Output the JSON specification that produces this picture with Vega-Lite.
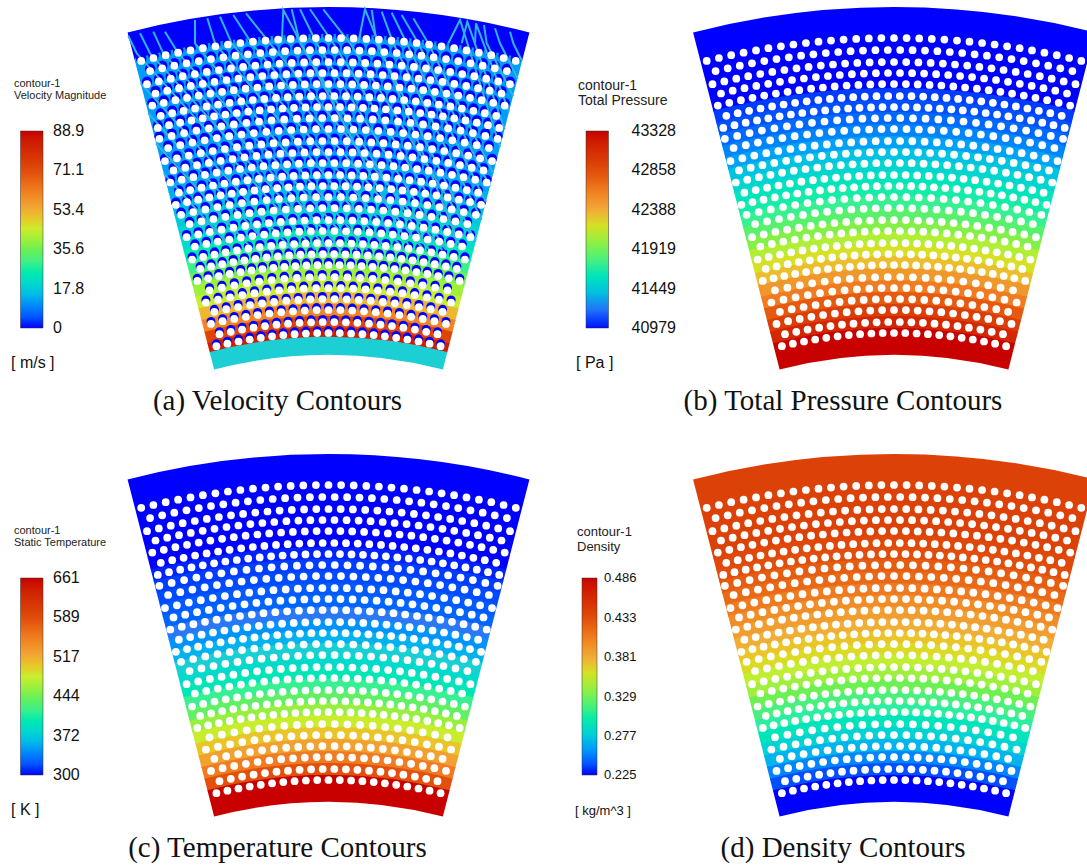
{"$schema":"https://vega.github.io/schema/vega-lite/v6.json","padding":0,"spacing":0,"bounds":"flush","align":"each","columns":2,"resolve":{"scale":{"color":"independent"},"legend":{"color":"independent"}},"config":{"view":{"stroke":null},"axis":{"disable":true}},
"datasets":{
"bandsA":[{"r1":808,"r0":780,"v":0},{"r1":781,"r0":726,"v":12},{"r1":727,"r0":714,"v":12},{"r1":715,"r0":702,"v":12},{"r1":703,"r0":690,"v":12},{"r1":691,"r0":678,"v":12},{"r1":679,"r0":666,"v":12},{"r1":667,"r0":654,"v":12},{"r1":655,"r0":642,"v":13},{"r1":643,"r0":630,"v":14},{"r1":631,"r0":618,"v":15},{"r1":619,"r0":606,"v":17},{"r1":607,"r0":594,"v":19},{"r1":595,"r0":582,"v":21},{"r1":583,"r0":570,"v":25},{"r1":571,"r0":558,"v":29.3},{"r1":559,"r0":546,"v":34.7},{"r1":547,"r0":534,"v":40},{"r1":535,"r0":522,"v":44.5},{"r1":523,"r0":510,"v":51.6},{"r1":511,"r0":498,"v":60.5},{"r1":499,"r0":486,"v":72.9},{"r1":487,"r0":477,"v":84.5},{"r1":478,"r0":460,"v":17.8}],
"bandsB":[{"r1":808,"r0":726,"v":40979},{"r1":727,"r0":714,"v":41049},{"r1":715,"r0":702,"v":41096},{"r1":703,"r0":690,"v":41167},{"r1":691,"r0":678,"v":41237},{"r1":679,"r0":666,"v":41308},{"r1":667,"r0":654,"v":41402},{"r1":655,"r0":642,"v":41496},{"r1":643,"r0":630,"v":41590},{"r1":631,"r0":618,"v":41660},{"r1":619,"r0":606,"v":41731},{"r1":607,"r0":594,"v":41848},{"r1":595,"r0":582,"v":41966},{"r1":583,"r0":570,"v":42083},{"r1":571,"r0":558,"v":42200},{"r1":559,"r0":546,"v":42318},{"r1":547,"r0":534,"v":42482},{"r1":535,"r0":522,"v":42623},{"r1":523,"r0":510,"v":42788},{"r1":511,"r0":498,"v":42952},{"r1":499,"r0":486,"v":43117},{"r1":487,"r0":460,"v":43328}],
"bandsC":[{"r1":808,"r0":726,"v":300},{"r1":727,"r0":714,"v":300},{"r1":715,"r0":702,"v":304},{"r1":703,"r0":690,"v":311},{"r1":691,"r0":678,"v":316},{"r1":679,"r0":666,"v":322},{"r1":667,"r0":654,"v":327},{"r1":655,"r0":642,"v":336},{"r1":643,"r0":630,"v":345},{"r1":631,"r0":618,"v":358},{"r1":619,"r0":606,"v":372},{"r1":607,"r0":594,"v":383},{"r1":595,"r0":582,"v":397},{"r1":583,"r0":570,"v":416},{"r1":571,"r0":558,"v":437},{"r1":559,"r0":546,"v":459},{"r1":547,"r0":534,"v":481},{"r1":535,"r0":522,"v":502},{"r1":523,"r0":510,"v":524},{"r1":511,"r0":498,"v":553},{"r1":499,"r0":486,"v":585},{"r1":487,"r0":460,"v":661}],
"bandsD":[{"r1":808,"r0":726,"v":0.442},{"r1":727,"r0":714,"v":0.436},{"r1":715,"r0":702,"v":0.432},{"r1":703,"r0":690,"v":0.425},{"r1":691,"r0":678,"v":0.418},{"r1":679,"r0":666,"v":0.408},{"r1":667,"r0":654,"v":0.398},{"r1":655,"r0":642,"v":0.389},{"r1":643,"r0":630,"v":0.38},{"r1":631,"r0":618,"v":0.371},{"r1":619,"r0":606,"v":0.363},{"r1":607,"r0":594,"v":0.353},{"r1":595,"r0":582,"v":0.342},{"r1":583,"r0":570,"v":0.329},{"r1":571,"r0":558,"v":0.316},{"r1":559,"r0":546,"v":0.303},{"r1":547,"r0":534,"v":0.293},{"r1":535,"r0":522,"v":0.28},{"r1":523,"r0":510,"v":0.267},{"r1":511,"r0":498,"v":0.254},{"r1":499,"r0":486,"v":0.238},{"r1":487,"r0":460,"v":0.225}],
"streaks":[{"s":1,"x":-200.2,"y":779},{"s":1,"x":-191.8,"y":761.7},{"s":1,"x":-13.2,"y":565},{"s":2,"x":-188.5,"y":781.7},{"s":2,"x":-178.5,"y":761.7},{"s":2,"x":0.2,"y":565},{"s":3,"x":-175.2,"y":783.3},{"s":3,"x":-165.2,"y":761.7},{"s":3,"x":13.5,"y":565},{"s":4,"x":-163.5,"y":783.3},{"s":4,"x":-150.2,"y":761.7},{"s":4,"x":28.5,"y":565},{"s":5,"x":-187.8,"y":731.7},{"s":5,"x":-36.2,"y":565},{"s":6,"x":-180.2,"y":701.7},{"s":6,"x":-55.8,"y":565},{"s":7,"x":-172.5,"y":671.7},{"s":7,"x":-75.5,"y":565},{"s":8,"x":-164.8,"y":641.7},{"s":8,"x":-95.2,"y":565},{"s":9,"x":-133.5,"y":795},{"s":9,"x":-133.5,"y":771.7},{"s":9,"x":38.8,"y":565},{"s":10,"x":-121.2,"y":796.7},{"s":10,"x":-113.5,"y":771.7},{"s":10,"x":58.8,"y":565},{"s":11,"x":-108.5,"y":798.3},{"s":11,"x":-96.8,"y":771.7},{"s":11,"x":75.5,"y":565},{"s":12,"x":-95.2,"y":800},{"s":12,"x":-76.8,"y":771.7},{"s":12,"x":95.5,"y":565},{"s":13,"x":-82.5,"y":801.7},{"s":13,"x":-58.5,"y":771.7},{"s":13,"x":113.8,"y":565},{"s":14,"x":-45.2,"y":805},{"s":14,"x":-46.8,"y":771.7},{"s":14,"x":82.5,"y":565},{"s":15,"x":-36.8,"y":805.7},{"s":15,"x":-28.5,"y":771.7},{"s":15,"x":100.8,"y":565},{"s":16,"x":-28.5,"y":805.7},{"s":16,"x":-11.8,"y":771.7},{"s":16,"x":117.5,"y":565},{"s":17,"x":-18.5,"y":805.7},{"s":17,"x":4.8,"y":771.7},{"s":17,"x":134.2,"y":565},{"s":18,"x":-5.2,"y":805.7},{"s":18,"x":21.5,"y":771.7},{"s":18,"x":141.5,"y":581.7},{"s":19,"x":36.5,"y":805.7},{"s":19,"x":29.8,"y":771.7},{"s":19,"x":133.2,"y":565},{"s":20,"x":43.2,"y":805},{"s":20,"x":48.2,"y":771.7},{"s":20,"x":147.2,"y":573.3},{"s":21,"x":53.2,"y":803.3},{"s":21,"x":64.8,"y":771.7},{"s":21,"x":153.2,"y":595.3},{"s":22,"x":63.2,"y":802.3},{"s":22,"x":78.2,"y":771.7},{"s":22,"x":157.5,"y":613},{"s":23,"x":73.2,"y":800},{"s":23,"x":89.8,"y":771.7},{"s":23,"x":161.5,"y":628.3},{"s":24,"x":84.8,"y":796.7},{"s":24,"x":99.8,"y":771.7},{"s":24,"x":164.8,"y":641.7},{"s":25,"x":131.5,"y":795},{"s":25,"x":119.8,"y":771.7},{"s":25,"x":171.5,"y":668},{"s":26,"x":138.8,"y":793.3},{"s":26,"x":133.2,"y":771.7},{"s":26,"x":176.2,"y":685.7},{"s":27,"x":147.5,"y":791.7},{"s":27,"x":146.5,"y":771.7},{"s":27,"x":180.5,"y":703.3},{"s":28,"x":155.5,"y":790},{"s":28,"x":158.2,"y":771.7},{"s":28,"x":184.8,"y":718.7},{"s":29,"x":166.5,"y":786.7},{"s":29,"x":171.5,"y":771.7},{"s":29,"x":189.2,"y":736.3},{"s":30,"x":181.5,"y":783.3},{"s":30,"x":184.8,"y":771.7},{"s":30,"x":193.5,"y":754}],
"holes":[
{"x":0,"y":777},{"x":12.6,"y":776.9},{"x":-12.6,"y":776.9},{"x":25.2,"y":776.6},{"x":-25.2,"y":776.6},{"x":37.8,"y":776.1},{"x":-37.8,"y":776.1},{"x":50.4,"y":775.4},{"x":-50.4,"y":775.4},{"x":63,"y":774.4},{"x":-63,"y":774.4},{"x":75.5,"y":773.3},{"x":-75.5,"y":773.3},{"x":88.1,"y":772},{"x":-88.1,"y":772},{"x":100.6,"y":770.5},{"x":-100.6,"y":770.5},{"x":113.1,"y":768.7},{"x":-113.1,"y":768.7},{"x":125.6,"y":766.8},{"x":-125.6,"y":766.8},{"x":138,"y":764.6},{"x":-138,"y":764.6},{"x":150.4,"y":762.3},{"x":-150.4,"y":762.3},{"x":162.8,"y":759.8},{"x":-162.8,"y":759.8},{"x":175.1,"y":757},{"x":-175.1,"y":757},{"x":187.3,"y":754.1},{"x":-187.3,"y":754.1},
{"x":6.2,"y":765},{"x":-6.2,"y":765},{"x":18.6,"y":764.8},{"x":-18.6,"y":764.8},{"x":31,"y":764.4},{"x":-31,"y":764.4},{"x":43.4,"y":763.8},{"x":-43.4,"y":763.8},{"x":55.8,"y":763},{"x":-55.8,"y":763},{"x":68.2,"y":762},{"x":-68.2,"y":762},{"x":80.6,"y":760.7},{"x":-80.6,"y":760.7},{"x":92.9,"y":759.3},{"x":-92.9,"y":759.3},{"x":105.2,"y":757.7},{"x":-105.2,"y":757.7},{"x":117.5,"y":755.9},{"x":-117.5,"y":755.9},{"x":129.7,"y":753.9},{"x":-129.7,"y":753.9},{"x":142,"y":751.7},{"x":-142,"y":751.7},{"x":154.2,"y":749.3},{"x":-154.2,"y":749.3},{"x":166.3,"y":746.7},{"x":-166.3,"y":746.7},{"x":178.4,"y":743.9},{"x":-178.4,"y":743.9},
{"x":0,"y":753},{"x":12.2,"y":752.9},{"x":-12.2,"y":752.9},{"x":24.4,"y":752.6},{"x":-24.4,"y":752.6},{"x":36.7,"y":752.1},{"x":-36.7,"y":752.1},{"x":48.9,"y":751.4},{"x":-48.9,"y":751.4},{"x":61,"y":750.5},{"x":-61,"y":750.5},{"x":73.2,"y":749.4},{"x":-73.2,"y":749.4},{"x":85.4,"y":748.1},{"x":-85.4,"y":748.1},{"x":97.5,"y":746.7},{"x":-97.5,"y":746.7},{"x":109.6,"y":745},{"x":-109.6,"y":745},{"x":121.7,"y":743.1},{"x":-121.7,"y":743.1},{"x":133.7,"y":741},{"x":-133.7,"y":741},{"x":145.8,"y":738.8},{"x":-145.8,"y":738.8},{"x":157.7,"y":736.3},{"x":-157.7,"y":736.3},{"x":169.7,"y":733.6},{"x":-169.7,"y":733.6},{"x":181.5,"y":730.8},{"x":-181.5,"y":730.8},
{"x":6,"y":742},{"x":-6,"y":742},{"x":18.1,"y":741.8},{"x":-18.1,"y":741.8},{"x":30.1,"y":741.4},{"x":-30.1,"y":741.4},{"x":42.1,"y":740.8},{"x":-42.1,"y":740.8},{"x":54.2,"y":740},{"x":-54.2,"y":740},{"x":66.1,"y":739},{"x":-66.1,"y":739},{"x":78.1,"y":737.9},{"x":-78.1,"y":737.9},{"x":90.1,"y":736.5},{"x":-90.1,"y":736.5},{"x":102,"y":735},{"x":-102,"y":735},{"x":114,"y":733.2},{"x":-114,"y":733.2},{"x":125.8,"y":731.2},{"x":-125.8,"y":731.2},{"x":137.7,"y":729.1},{"x":-137.7,"y":729.1},{"x":149.5,"y":726.8},{"x":-149.5,"y":726.8},{"x":161.3,"y":724.3},{"x":-161.3,"y":724.3},{"x":173,"y":721.5},{"x":-173,"y":721.5},
{"x":0,"y":731},{"x":11.9,"y":730.9},{"x":-11.9,"y":730.9},{"x":23.7,"y":730.6},{"x":-23.7,"y":730.6},{"x":35.6,"y":730.1},{"x":-35.6,"y":730.1},{"x":47.4,"y":729.5},{"x":-47.4,"y":729.5},{"x":59.3,"y":728.6},{"x":-59.3,"y":728.6},{"x":71.1,"y":727.5},{"x":-71.1,"y":727.5},{"x":82.9,"y":726.3},{"x":-82.9,"y":726.3},{"x":94.7,"y":724.8},{"x":-94.7,"y":724.8},{"x":106.4,"y":723.2},{"x":-106.4,"y":723.2},{"x":118.1,"y":721.4},{"x":-118.1,"y":721.4},{"x":129.8,"y":719.4},{"x":-129.8,"y":719.4},{"x":141.5,"y":717.2},{"x":-141.5,"y":717.2},{"x":153.1,"y":714.8},{"x":-153.1,"y":714.8},{"x":164.7,"y":712.2},{"x":-164.7,"y":712.2},{"x":176.2,"y":709.4},{"x":-176.2,"y":709.4},
{"x":5.8,"y":719},{"x":-5.8,"y":719},{"x":17.5,"y":718.8},{"x":-17.5,"y":718.8},{"x":29.2,"y":718.4},{"x":-29.2,"y":718.4},{"x":40.8,"y":717.8},{"x":-40.8,"y":717.8},{"x":52.5,"y":717.1},{"x":-52.5,"y":717.1},{"x":64.1,"y":716.1},{"x":-64.1,"y":716.1},{"x":75.7,"y":715},{"x":-75.7,"y":715},{"x":87.3,"y":713.7},{"x":-87.3,"y":713.7},{"x":98.9,"y":712.2},{"x":-98.9,"y":712.2},{"x":110.4,"y":710.5},{"x":-110.4,"y":710.5},{"x":121.9,"y":708.6},{"x":-121.9,"y":708.6},{"x":133.4,"y":706.5},{"x":-133.4,"y":706.5},{"x":144.9,"y":704.2},{"x":-144.9,"y":704.2},{"x":156.3,"y":701.8},{"x":-156.3,"y":701.8},{"x":167.7,"y":699.2},{"x":-167.7,"y":699.2},
{"x":0,"y":708},{"x":11.5,"y":707.9},{"x":-11.5,"y":707.9},{"x":23,"y":707.6},{"x":-23,"y":707.6},{"x":34.5,"y":707.2},{"x":-34.5,"y":707.2},{"x":45.9,"y":706.5},{"x":-45.9,"y":706.5},{"x":57.4,"y":705.7},{"x":-57.4,"y":705.7},{"x":68.8,"y":704.6},{"x":-68.8,"y":704.6},{"x":80.3,"y":703.4},{"x":-80.3,"y":703.4},{"x":91.7,"y":702},{"x":-91.7,"y":702},{"x":103.1,"y":700.5},{"x":-103.1,"y":700.5},{"x":114.4,"y":698.7},{"x":-114.4,"y":698.7},{"x":125.7,"y":696.7},{"x":-125.7,"y":696.7},{"x":137,"y":694.6},{"x":-137,"y":694.6},{"x":148.3,"y":692.3},{"x":-148.3,"y":692.3},{"x":159.5,"y":689.8},{"x":-159.5,"y":689.8},{"x":170.7,"y":687.1},{"x":-170.7,"y":687.1},
{"x":6.3,"y":697},{"x":-6.3,"y":697},{"x":19,"y":696.7},{"x":-19,"y":696.7},{"x":31.6,"y":696.3},{"x":-31.6,"y":696.3},{"x":44.3,"y":695.6},{"x":-44.3,"y":695.6},{"x":56.9,"y":694.7},{"x":-56.9,"y":694.7},{"x":69.5,"y":693.5},{"x":-69.5,"y":693.5},{"x":82,"y":692.2},{"x":-82,"y":692.2},{"x":94.6,"y":690.6},{"x":-94.6,"y":690.6},{"x":107.1,"y":688.7},{"x":-107.1,"y":688.7},{"x":119.6,"y":686.7},{"x":-119.6,"y":686.7},{"x":132.1,"y":684.4},{"x":-132.1,"y":684.4},{"x":144.4,"y":681.9},{"x":-144.4,"y":681.9},{"x":156.8,"y":679.1},{"x":-156.8,"y":679.1},{"x":169.1,"y":676.2},{"x":-169.1,"y":676.2},
{"x":0,"y":686},{"x":12.5,"y":685.9},{"x":-12.5,"y":685.9},{"x":24.9,"y":685.5},{"x":-24.9,"y":685.5},{"x":37.3,"y":685},{"x":-37.3,"y":685},{"x":49.8,"y":684.2},{"x":-49.8,"y":684.2},{"x":62.2,"y":683.2},{"x":-62.2,"y":683.2},{"x":74.6,"y":681.9},{"x":-74.6,"y":681.9},{"x":86.9,"y":680.5},{"x":-86.9,"y":680.5},{"x":99.3,"y":678.8},{"x":-99.3,"y":678.8},{"x":111.6,"y":676.9},{"x":-111.6,"y":676.9},{"x":123.8,"y":674.7},{"x":-123.8,"y":674.7},{"x":136.1,"y":672.4},{"x":-136.1,"y":672.4},{"x":148.2,"y":669.8},{"x":-148.2,"y":669.8},{"x":160.4,"y":667},{"x":-160.4,"y":667},
{"x":6.1,"y":674},{"x":-6.1,"y":674},{"x":18.3,"y":673.8},{"x":-18.3,"y":673.8},{"x":30.6,"y":673.3},{"x":-30.6,"y":673.3},{"x":42.8,"y":672.6},{"x":-42.8,"y":672.6},{"x":55,"y":671.8},{"x":-55,"y":671.8},{"x":67.2,"y":670.6},{"x":-67.2,"y":670.6},{"x":79.3,"y":669.3},{"x":-79.3,"y":669.3},{"x":91.5,"y":667.8},{"x":-91.5,"y":667.8},{"x":103.6,"y":666},{"x":-103.6,"y":666},{"x":115.7,"y":664},{"x":-115.7,"y":664},{"x":127.7,"y":661.8},{"x":-127.7,"y":661.8},{"x":139.7,"y":659.4},{"x":-139.7,"y":659.4},{"x":151.6,"y":656.7},{"x":-151.6,"y":656.7},{"x":163.5,"y":653.9},{"x":-163.5,"y":653.9},
{"x":0,"y":663},{"x":12,"y":662.9},{"x":-12,"y":662.9},{"x":24.1,"y":662.6},{"x":-24.1,"y":662.6},{"x":36.1,"y":662},{"x":-36.1,"y":662},{"x":48.1,"y":661.3},{"x":-48.1,"y":661.3},{"x":60.1,"y":660.3},{"x":-60.1,"y":660.3},{"x":72.1,"y":659.1},{"x":-72.1,"y":659.1},{"x":84,"y":657.7},{"x":-84,"y":657.7},{"x":95.9,"y":656},{"x":-95.9,"y":656},{"x":107.8,"y":654.2},{"x":-107.8,"y":654.2},{"x":119.7,"y":652.1},{"x":-119.7,"y":652.1},{"x":131.5,"y":649.8},{"x":-131.5,"y":649.8},{"x":143.3,"y":647.3},{"x":-143.3,"y":647.3},{"x":155,"y":644.6},{"x":-155,"y":644.6},
{"x":5.9,"y":652},{"x":-5.9,"y":652},{"x":17.7,"y":651.8},{"x":-17.7,"y":651.8},{"x":29.6,"y":651.3},{"x":-29.6,"y":651.3},{"x":41.4,"y":650.7},{"x":-41.4,"y":650.7},{"x":53.2,"y":649.8},{"x":-53.2,"y":649.8},{"x":65,"y":648.8},{"x":-65,"y":648.8},{"x":76.7,"y":647.5},{"x":-76.7,"y":647.5},{"x":88.5,"y":646},{"x":-88.5,"y":646},{"x":100.2,"y":644.3},{"x":-100.2,"y":644.3},{"x":111.9,"y":642.3},{"x":-111.9,"y":642.3},{"x":123.5,"y":640.2},{"x":-123.5,"y":640.2},{"x":135.1,"y":637.8},{"x":-135.1,"y":637.8},{"x":146.7,"y":635.3},{"x":-146.7,"y":635.3},{"x":158.2,"y":632.5},{"x":-158.2,"y":632.5},
{"x":0,"y":640},{"x":11.6,"y":639.9},{"x":-11.6,"y":639.9},{"x":23.2,"y":639.6},{"x":-23.2,"y":639.6},{"x":34.8,"y":639.1},{"x":-34.8,"y":639.1},{"x":46.4,"y":638.3},{"x":-46.4,"y":638.3},{"x":58,"y":637.4},{"x":-58,"y":637.4},{"x":69.6,"y":636.2},{"x":-69.6,"y":636.2},{"x":81.1,"y":634.8},{"x":-81.1,"y":634.8},{"x":92.6,"y":633.3},{"x":-92.6,"y":633.3},{"x":104.1,"y":631.5},{"x":-104.1,"y":631.5},{"x":115.5,"y":629.5},{"x":-115.5,"y":629.5},{"x":126.9,"y":627.3},{"x":-126.9,"y":627.3},{"x":138.3,"y":624.9},{"x":-138.3,"y":624.9},{"x":149.6,"y":622.3},{"x":-149.6,"y":622.3},
{"x":5.7,"y":629},{"x":-5.7,"y":629},{"x":17.1,"y":628.8},{"x":-17.1,"y":628.8},{"x":28.5,"y":628.4},{"x":-28.5,"y":628.4},{"x":39.9,"y":627.7},{"x":-39.9,"y":627.7},{"x":51.3,"y":626.9},{"x":-51.3,"y":626.9},{"x":62.7,"y":625.9},{"x":-62.7,"y":625.9},{"x":74,"y":624.6},{"x":-74,"y":624.6},{"x":85.4,"y":623.2},{"x":-85.4,"y":623.2},{"x":96.7,"y":621.5},{"x":-96.7,"y":621.5},{"x":107.9,"y":619.7},{"x":-107.9,"y":619.7},{"x":119.2,"y":617.6},{"x":-119.2,"y":617.6},{"x":130.4,"y":615.3},{"x":-130.4,"y":615.3},{"x":141.5,"y":612.9},{"x":-141.5,"y":612.9},{"x":152.6,"y":610.2},{"x":-152.6,"y":610.2},
{"x":0,"y":618},{"x":12.4,"y":617.9},{"x":-12.4,"y":617.9},{"x":24.8,"y":617.5},{"x":-24.8,"y":617.5},{"x":37.2,"y":616.9},{"x":-37.2,"y":616.9},{"x":49.6,"y":616},{"x":-49.6,"y":616},{"x":61.9,"y":614.9},{"x":-61.9,"y":614.9},{"x":74.2,"y":613.5},{"x":-74.2,"y":613.5},{"x":86.5,"y":611.9},{"x":-86.5,"y":611.9},{"x":98.8,"y":610},{"x":-98.8,"y":610},{"x":111,"y":608},{"x":-111,"y":608},{"x":123.2,"y":605.6},{"x":-123.2,"y":605.6},{"x":135.3,"y":603},{"x":-135.3,"y":603},{"x":147.4,"y":600.2},{"x":-147.4,"y":600.2},
{"x":6.1,"y":607},{"x":-6.1,"y":607},{"x":18.3,"y":606.7},{"x":-18.3,"y":606.7},{"x":30.4,"y":606.2},{"x":-30.4,"y":606.2},{"x":42.6,"y":605.5},{"x":-42.6,"y":605.5},{"x":54.8,"y":604.5},{"x":-54.8,"y":604.5},{"x":66.9,"y":603.3},{"x":-66.9,"y":603.3},{"x":79,"y":601.8},{"x":-79,"y":601.8},{"x":91,"y":600.1},{"x":-91,"y":600.1},{"x":103.1,"y":598.2},{"x":-103.1,"y":598.2},{"x":115,"y":596},{"x":-115,"y":596},{"x":127,"y":593.6},{"x":-127,"y":593.6},{"x":138.9,"y":590.9},{"x":-138.9,"y":590.9},
{"x":0,"y":595},{"x":11.9,"y":594.9},{"x":-11.9,"y":594.9},{"x":23.9,"y":594.5},{"x":-23.9,"y":594.5},{"x":35.8,"y":593.9},{"x":-35.8,"y":593.9},{"x":47.7,"y":593.1},{"x":-47.7,"y":593.1},{"x":59.6,"y":592},{"x":-59.6,"y":592},{"x":71.5,"y":590.7},{"x":-71.5,"y":590.7},{"x":83.3,"y":589.1},{"x":-83.3,"y":589.1},{"x":95.1,"y":587.3},{"x":-95.1,"y":587.3},{"x":106.9,"y":585.3},{"x":-106.9,"y":585.3},{"x":118.6,"y":583.1},{"x":-118.6,"y":583.1},{"x":130.3,"y":580.6},{"x":-130.3,"y":580.6},{"x":141.9,"y":577.8},{"x":-141.9,"y":577.8},
{"x":5.9,"y":584},{"x":-5.9,"y":584},{"x":17.6,"y":583.7},{"x":-17.6,"y":583.7},{"x":29.3,"y":583.3},{"x":-29.3,"y":583.3},{"x":41,"y":582.6},{"x":-41,"y":582.6},{"x":52.7,"y":581.6},{"x":-52.7,"y":581.6},{"x":64.3,"y":580.4},{"x":-64.3,"y":580.4},{"x":76,"y":579},{"x":-76,"y":579},{"x":87.6,"y":577.4},{"x":-87.6,"y":577.4},{"x":99.2,"y":575.5},{"x":-99.2,"y":575.5},{"x":110.7,"y":573.4},{"x":-110.7,"y":573.4},{"x":122.2,"y":571.1},{"x":-122.2,"y":571.1},{"x":133.6,"y":568.5},{"x":-133.6,"y":568.5},
{"x":0,"y":572},{"x":11.5,"y":571.9},{"x":-11.5,"y":571.9},{"x":23,"y":571.5},{"x":-23,"y":571.5},{"x":34.4,"y":571},{"x":-34.4,"y":571},{"x":45.9,"y":570.2},{"x":-45.9,"y":570.2},{"x":57.3,"y":569.1},{"x":-57.3,"y":569.1},{"x":68.7,"y":567.9},{"x":-68.7,"y":567.9},{"x":80.1,"y":566.4},{"x":-80.1,"y":566.4},{"x":91.5,"y":564.6},{"x":-91.5,"y":564.6},{"x":102.8,"y":562.7},{"x":-102.8,"y":562.7},{"x":114,"y":560.5},{"x":-114,"y":560.5},{"x":125.3,"y":558.1},{"x":-125.3,"y":558.1},{"x":136.4,"y":555.5},{"x":-136.4,"y":555.5},
{"x":5.6,"y":561},{"x":-5.6,"y":561},{"x":16.9,"y":560.7},{"x":-16.9,"y":560.7},{"x":28.1,"y":560.3},{"x":-28.1,"y":560.3},{"x":39.4,"y":559.6},{"x":-39.4,"y":559.6},{"x":50.6,"y":558.7},{"x":-50.6,"y":558.7},{"x":61.8,"y":557.6},{"x":-61.8,"y":557.6},{"x":73,"y":556.2},{"x":-73,"y":556.2},{"x":84.1,"y":554.7},{"x":-84.1,"y":554.7},{"x":95.2,"y":552.9},{"x":-95.2,"y":552.9},{"x":106.3,"y":550.8},{"x":-106.3,"y":550.8},{"x":117.4,"y":548.6},{"x":-117.4,"y":548.6},{"x":128.3,"y":546.1},{"x":-128.3,"y":546.1},
{"x":0,"y":550},{"x":11,"y":549.9},{"x":-11,"y":549.9},{"x":22.1,"y":549.6},{"x":-22.1,"y":549.6},{"x":33.1,"y":549},{"x":-33.1,"y":549},{"x":44.1,"y":548.2},{"x":-44.1,"y":548.2},{"x":55.1,"y":547.2},{"x":-55.1,"y":547.2},{"x":66.1,"y":546},{"x":-66.1,"y":546},{"x":77,"y":544.6},{"x":-77,"y":544.6},{"x":87.9,"y":542.9},{"x":-87.9,"y":542.9},{"x":98.8,"y":541.1},{"x":-98.8,"y":541.1},{"x":109.7,"y":539},{"x":-109.7,"y":539},{"x":120.4,"y":536.7},{"x":-120.4,"y":536.7},{"x":131.2,"y":534.1},{"x":-131.2,"y":534.1},
{"x":6.3,"y":538},{"x":-6.3,"y":538},{"x":18.9,"y":537.7},{"x":-18.9,"y":537.7},{"x":31.6,"y":537.1},{"x":-31.6,"y":537.1},{"x":44.2,"y":536.2},{"x":-44.2,"y":536.2},{"x":56.7,"y":535},{"x":-56.7,"y":535},{"x":69.3,"y":533.5},{"x":-69.3,"y":533.5},{"x":81.8,"y":531.7},{"x":-81.8,"y":531.7},{"x":94.2,"y":529.7},{"x":-94.2,"y":529.7},{"x":106.6,"y":527.3},{"x":-106.6,"y":527.3},{"x":119,"y":524.7},{"x":-119,"y":524.7},
{"x":0,"y":527},{"x":12.4,"y":526.9},{"x":-12.4,"y":526.9},{"x":24.7,"y":526.4},{"x":-24.7,"y":526.4},{"x":37.1,"y":525.7},{"x":-37.1,"y":525.7},{"x":49.4,"y":524.7},{"x":-49.4,"y":524.7},{"x":61.7,"y":523.4},{"x":-61.7,"y":523.4},{"x":74,"y":521.8},{"x":-74,"y":521.8},{"x":86.2,"y":519.9},{"x":-86.2,"y":519.9},{"x":98.4,"y":517.7},{"x":-98.4,"y":517.7},{"x":110.5,"y":515.3},{"x":-110.5,"y":515.3},{"x":122.6,"y":512.5},{"x":-122.6,"y":512.5},
{"x":6.1,"y":516},{"x":-6.1,"y":516},{"x":18.2,"y":515.7},{"x":-18.2,"y":515.7},{"x":30.3,"y":515.1},{"x":-30.3,"y":515.1},{"x":42.3,"y":514.3},{"x":-42.3,"y":514.3},{"x":54.4,"y":513.1},{"x":-54.4,"y":513.1},{"x":66.4,"y":511.7},{"x":-66.4,"y":511.7},{"x":78.4,"y":510},{"x":-78.4,"y":510},{"x":90.4,"y":508},{"x":-90.4,"y":508},{"x":102.3,"y":505.8},{"x":-102.3,"y":505.8},{"x":114.1,"y":503.2},{"x":-114.1,"y":503.2},
{"x":0,"y":505},{"x":11.9,"y":504.9},{"x":-11.9,"y":504.9},{"x":23.7,"y":504.4},{"x":-23.7,"y":504.4},{"x":35.5,"y":503.7},{"x":-35.5,"y":503.7},{"x":47.3,"y":502.8},{"x":-47.3,"y":502.8},{"x":59.1,"y":501.5},{"x":-59.1,"y":501.5},{"x":70.9,"y":500},{"x":-70.9,"y":500},{"x":82.6,"y":498.2},{"x":-82.6,"y":498.2},{"x":94.3,"y":496.1},{"x":-94.3,"y":496.1},{"x":105.9,"y":493.8},{"x":-105.9,"y":493.8},{"x":117.5,"y":491.1},{"x":-117.5,"y":491.1},
{"x":5.8,"y":493},{"x":-5.8,"y":493},{"x":17.4,"y":492.7},{"x":-17.4,"y":492.7},{"x":28.9,"y":492.2},{"x":-28.9,"y":492.2},{"x":40.5,"y":491.3},{"x":-40.5,"y":491.3},{"x":52,"y":490.3},{"x":-52,"y":490.3},{"x":63.5,"y":488.9},{"x":-63.5,"y":488.9},{"x":74.9,"y":487.3},{"x":-74.9,"y":487.3},{"x":86.4,"y":485.4},{"x":-86.4,"y":485.4},{"x":97.7,"y":483.2},{"x":-97.7,"y":483.2},{"x":109,"y":480.8},{"x":-109,"y":480.8},
{"x":0,"y":482},{"x":11.3,"y":481.9},{"x":-11.3,"y":481.9},{"x":22.6,"y":481.5},{"x":-22.6,"y":481.5},{"x":33.9,"y":480.8},{"x":-33.9,"y":480.8},{"x":45.2,"y":479.9},{"x":-45.2,"y":479.9},{"x":56.4,"y":478.7},{"x":-56.4,"y":478.7},{"x":67.7,"y":477.2},{"x":-67.7,"y":477.2},{"x":78.8,"y":475.5},{"x":-78.8,"y":475.5},{"x":90,"y":473.5},{"x":-90,"y":473.5},{"x":101.1,"y":471.3},{"x":-101.1,"y":471.3},{"x":112.1,"y":468.8},{"x":-112.1,"y":468.8}
]},
"concat":[
{"width":543,"height":447,"layer":[
{"data":{"name":"bandsA"},"mark":{"type":"arc","theta":-0.2513,"theta2":0.2513},"encoding":{"x":{"datum":0,"type":"quantitative","scale":{"domain":[-328.5,214.5],"nice":false,"zero":false}},"y":{"datum":0,"type":"quantitative","scale":{"domain":[368,815],"nice":false,"zero":false}},"radius":{"field":"r1","type":"quantitative","scale":{"type":"linear","domain":[0,808],"range":[0,808]}},"radius2":{"field":"r0"},"color":{"field":"v","type":"quantitative","scale":{"domain":[0,8.89,17.78,26.67,35.56,44.45,53.34,62.23,71.12,80.01,88.9],"range":["#0000ff","#2a78f8","#1ccfd4","#2cefa0","#6ef04f","#c8ee2e","#f2aa38","#f07b20","#e04a0a","#d42a02","#c80000"]},"legend":{"type":"gradient","title":null,"orient":"none","legendX":20.5,"legendY":131,"gradientLength":197,"gradientThickness":22.5,"gradientStrokeColor":"#333","gradientStrokeWidth":0.5,"values":[0.01,17.8,35.6,53.4,71.1,88.89],"format":".1~f","labelFont":"Liberation Sans","labelFontSize":16,"labelColor":"#111","labelOffset":10}}}},
{"data":{"name":"holes"},"mark":{"type":"point","filled":true,"color":"#0000ff","opacity":1,"yOffset":-2.5},"encoding":{"x":{"field":"x","type":"quantitative"},"y":{"field":"y","type":"quantitative"},"size":{"field":"y","type":"quantitative","scale":{"domain":[482,777],"range":[78,112]},"legend":null}}},
{"data":{"name":"streaks"},"mark":{"type":"line","strokeWidth":2,"color":"#2fb4e4"},"encoding":{"x":{"field":"x","type":"quantitative","sort":null},"y":{"field":"y","type":"quantitative"},"detail":{"field":"s"}}},
{"data":{"name":"holes"},"mark":{"type":"point","filled":true,"color":"#ffffff","opacity":1,"size":60},"encoding":{"x":{"field":"x","type":"quantitative"},"y":{"field":"y","type":"quantitative"}}},
{"data":{"values":[{"t":"contour-1"}]},"mark":{"type":"text","align":"left","baseline":"alphabetic","font":"Liberation Sans","fontSize":11,"color":"#222"},"encoding":{"x":{"datum":-314.5},"y":{"datum":728},"text":{"field":"t"}}},
{"data":{"values":[{"t":"Velocity Magnitude"}]},"mark":{"type":"text","align":"left","baseline":"alphabetic","font":"Liberation Sans","fontSize":11,"color":"#222"},"encoding":{"x":{"datum":-314.5},"y":{"datum":716},"text":{"field":"t"}}},
{"data":{"values":[{"t":"[ m/s ]"}]},"mark":{"type":"text","align":"left","baseline":"alphabetic","font":"Liberation Sans","fontSize":16,"color":"#111"},"encoding":{"x":{"datum":-317.5},"y":{"datum":447},"text":{"field":"t"}}},
{"data":{"values":[{"t":"(a)  Velocity Contours"}]},"mark":{"type":"text","align":"center","baseline":"alphabetic","font":"Liberation Serif","fontSize":29,"color":"#111"},"encoding":{"x":{"datum":-51},"y":{"datum":405.5},"text":{"field":"t"}}}
]},
{"width":544,"height":447,"layer":[
{"data":{"name":"bandsB"},"mark":{"type":"arc","theta":-0.2513,"theta2":0.2513,"clip":true},"encoding":{"x":{"datum":0,"type":"quantitative","scale":{"domain":[-351,193],"nice":false,"zero":false}},"y":{"datum":0,"type":"quantitative","scale":{"domain":[368,815],"nice":false,"zero":false}},"radius":{"field":"r1","type":"quantitative","scale":{"type":"linear","domain":[0,808],"range":[0,808]}},"radius2":{"field":"r0"},"color":{"field":"v","type":"quantitative","scale":{"domain":[40979,41213.9,41448.8,41683.7,41918.6,42153.5,42388.4,42623.3,42858.2,43093.1,43328],"range":["#0000ff","#2a78f8","#1ccfd4","#2cefa0","#6ef04f","#c8ee2e","#f2aa38","#f07b20","#e04a0a","#d42a02","#c80000"]},"legend":{"type":"gradient","title":null,"orient":"none","legendX":43,"legendY":131,"gradientLength":197,"gradientThickness":22.5,"gradientStrokeColor":"#333","gradientStrokeWidth":0.5,"values":[40979.2,41449,41919,42388,42858,43327.8],"format":"d","labelFont":"Liberation Sans","labelFontSize":16,"labelColor":"#111","labelOffset":23}}}},
{"data":{"name":"holes"},"mark":{"type":"point","filled":true,"color":"#ffffff","opacity":1,"size":60,"clip":true},"encoding":{"x":{"field":"x","type":"quantitative"},"y":{"field":"y","type":"quantitative"}}},
{"data":{"values":[{"t":"contour-1"}]},"mark":{"type":"text","align":"left","baseline":"alphabetic","font":"Liberation Sans","fontSize":14,"color":"#222"},"encoding":{"x":{"datum":-316},"y":{"datum":725},"text":{"field":"t"}}},
{"data":{"values":[{"t":"Total Pressure"}]},"mark":{"type":"text","align":"left","baseline":"alphabetic","font":"Liberation Sans","fontSize":14,"color":"#222"},"encoding":{"x":{"datum":-316},"y":{"datum":710},"text":{"field":"t"}}},
{"data":{"values":[{"t":"[ Pa ]"}]},"mark":{"type":"text","align":"left","baseline":"alphabetic","font":"Liberation Sans","fontSize":16,"color":"#111"},"encoding":{"x":{"datum":-318},"y":{"datum":447},"text":{"field":"t"}}},
{"data":{"values":[{"t":"(b)  Total Pressure Contours"}]},"mark":{"type":"text","align":"center","baseline":"alphabetic","font":"Liberation Serif","fontSize":29,"color":"#111"},"encoding":{"x":{"datum":-51},"y":{"datum":405.5},"text":{"field":"t"}}}
]},
{"width":543,"height":419,"layer":[
{"data":{"name":"bandsC"},"mark":{"type":"arc","theta":-0.2513,"theta2":0.2513},"encoding":{"x":{"datum":0,"type":"quantitative","scale":{"domain":[-328.5,214.5],"nice":false,"zero":false}},"y":{"datum":0,"type":"quantitative","scale":{"domain":[396,815],"nice":false,"zero":false}},"radius":{"field":"r1","type":"quantitative","scale":{"type":"linear","domain":[0,808],"range":[0,808]}},"radius2":{"field":"r0"},"color":{"field":"v","type":"quantitative","scale":{"domain":[300,336.1,372.2,408.3,444.4,480.5,516.6,552.7,588.8,624.9,661],"range":["#0000ff","#2a78f8","#1ccfd4","#2cefa0","#6ef04f","#c8ee2e","#f2aa38","#f07b20","#e04a0a","#d42a02","#c80000"]},"legend":{"type":"gradient","title":null,"orient":"none","legendX":20.5,"legendY":131,"gradientLength":197,"gradientThickness":22.5,"gradientStrokeColor":"#333","gradientStrokeWidth":0.5,"values":[300.1,372,444,517,589,660.9],"format":"d","labelFont":"Liberation Sans","labelFontSize":16,"labelColor":"#111","labelOffset":10}}}},
{"data":{"name":"holes"},"mark":{"type":"point","filled":true,"color":"#ffffff","opacity":1,"size":60},"encoding":{"x":{"field":"x","type":"quantitative"},"y":{"field":"y","type":"quantitative"}}},
{"data":{"values":[{"t":"contour-1"}]},"mark":{"type":"text","align":"left","baseline":"alphabetic","font":"Liberation Sans","fontSize":11,"color":"#222"},"encoding":{"x":{"datum":-314.5},"y":{"datum":728},"text":{"field":"t"}}},
{"data":{"values":[{"t":"Static Temperature"}]},"mark":{"type":"text","align":"left","baseline":"alphabetic","font":"Liberation Sans","fontSize":11,"color":"#222"},"encoding":{"x":{"datum":-314.5},"y":{"datum":716},"text":{"field":"t"}}},
{"data":{"values":[{"t":"[ K ]"}]},"mark":{"type":"text","align":"left","baseline":"alphabetic","font":"Liberation Sans","fontSize":16,"color":"#111"},"encoding":{"x":{"datum":-317.5},"y":{"datum":447},"text":{"field":"t"}}},
{"data":{"values":[{"t":"(c)  Temperature Contours"}]},"mark":{"type":"text","align":"center","baseline":"alphabetic","font":"Liberation Serif","fontSize":29,"color":"#111"},"encoding":{"x":{"datum":-51},"y":{"datum":405},"text":{"field":"t"}}}
]},
{"width":544,"height":419,"layer":[
{"data":{"name":"bandsD"},"mark":{"type":"arc","theta":-0.2513,"theta2":0.2513,"clip":true},"encoding":{"x":{"datum":0,"type":"quantitative","scale":{"domain":[-351,193],"nice":false,"zero":false}},"y":{"datum":0,"type":"quantitative","scale":{"domain":[396,815],"nice":false,"zero":false}},"radius":{"field":"r1","type":"quantitative","scale":{"type":"linear","domain":[0,808],"range":[0,808]}},"radius2":{"field":"r0"},"color":{"field":"v","type":"quantitative","scale":{"domain":[0.225,0.2511,0.2772,0.3033,0.3294,0.3555,0.3816,0.4077,0.4338,0.4599,0.486],"range":["#0000ff","#2a78f8","#1ccfd4","#2cefa0","#6ef04f","#c8ee2e","#f2aa38","#f07b20","#e04a0a","#d42a02","#c80000"]},"legend":{"type":"gradient","title":null,"orient":"none","legendX":39,"legendY":131,"gradientLength":197,"gradientThickness":15,"gradientStrokeColor":"#333","gradientStrokeWidth":0.5,"values":[0.2251,0.277,0.329,0.381,0.433,0.4859],"format":".3f","labelFont":"Liberation Sans","labelFontSize":13,"labelColor":"#111","labelOffset":7}}}},
{"data":{"name":"holes"},"mark":{"type":"point","filled":true,"color":"#ffffff","opacity":1,"size":60,"clip":true},"encoding":{"x":{"field":"x","type":"quantitative"},"y":{"field":"y","type":"quantitative"}}},
{"data":{"values":[{"t":"contour-1"}]},"mark":{"type":"text","align":"left","baseline":"alphabetic","font":"Liberation Sans","fontSize":13,"color":"#222"},"encoding":{"x":{"datum":-317},"y":{"datum":726},"text":{"field":"t"}}},
{"data":{"values":[{"t":"Density"}]},"mark":{"type":"text","align":"left","baseline":"alphabetic","font":"Liberation Sans","fontSize":13,"color":"#222"},"encoding":{"x":{"datum":-317},"y":{"datum":711},"text":{"field":"t"}}},
{"data":{"values":[{"t":"[ kg/m^3 ]"}]},"mark":{"type":"text","align":"left","baseline":"alphabetic","font":"Liberation Sans","fontSize":13,"color":"#111"},"encoding":{"x":{"datum":-319},"y":{"datum":447},"text":{"field":"t"}}},
{"data":{"values":[{"t":"(d)  Density Contours"}]},"mark":{"type":"text","align":"center","baseline":"alphabetic","font":"Liberation Serif","fontSize":29,"color":"#111"},"encoding":{"x":{"datum":-51},"y":{"datum":405},"text":{"field":"t"}}}
]}
]}
